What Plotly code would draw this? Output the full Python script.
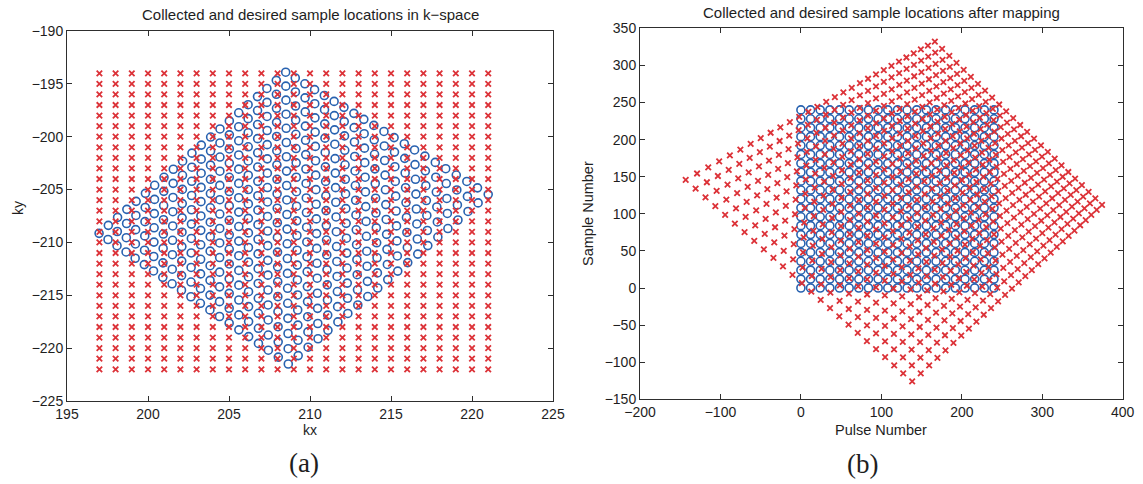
import numpy as np
import plotly.graph_objects as go

# Desired (rectangular) k-space grid
kx_vals = list(range(197, 222))          # 197 ... 221
ky_vals = list(range(-222, -193))        # -222 ... -194

# Collected samples: pulse / sample index grid
pulse_vals = list(range(0, 241, 12))     # 0 ... 240
sample_vals = list(range(0, 241, 12))    # 0 ... 240

# Corner correspondences of the two grids
# collected grid corners (pulse, sample) and where they sit in k-space
collected_corners_ps = [[0, 0], [0, 240], [240, 0], [240, 240]]
collected_corners_k = [[208.5, -193.9], [221.0, -205.45], [196.98, -209.14], [208.66, -221.5]]
# desired grid corners (kx, ky) and where they land after mapping
desired_corners_k = [[197, -194], [221, -222], [221, -194], [197, -222]]
desired_corners_ps = [[138.3, -125.7], [166.5, 331.9], [-143.2, 145.8], [374.3, 112.0]]


def projective(src, dst):
    """3x3 projective transform taking the four src points onto dst."""
    rows, rhs = [], []
    for (x, y), (u, v) in zip(src, dst):
        rows.append([x, y, 1, 0, 0, 0, -u * x, -u * y]); rhs.append(u)
        rows.append([0, 0, 0, x, y, 1, -v * x, -v * y]); rhs.append(v)
    h = np.linalg.solve(np.array(rows, float), np.array(rhs, float))
    return np.append(h, 1.0).reshape(3, 3)


def apply(H, pts):
    q = np.c_[pts, np.ones(len(pts))] @ H.T
    return q[:, :2] / q[:, 2:3]


ps_grid = np.array([[p, s] for p in pulse_vals for s in sample_vals], float)
k_grid = np.array([[x, y] for x in kx_vals for y in ky_vals], float)

collected_k = apply(projective(collected_corners_ps, collected_corners_k), ps_grid)
desired_ps = apply(projective(desired_corners_k, desired_corners_ps), k_grid)

RED = "#dc3238"
BLUE = "#2862b0"
circle = dict(symbol="circle-open", size=8, color=BLUE, line=dict(width=1.6, color=BLUE))
cross = dict(symbol="x-thin-open", size=5.5, color=RED, line=dict(width=1.8, color=RED))

fig = go.Figure()
# (a) k-space
fig.add_trace(go.Scatter(x=collected_k[:, 0], y=collected_k[:, 1], mode="markers",
                         marker=circle, xaxis="x", yaxis="y", name="collected"))
fig.add_trace(go.Scatter(x=k_grid[:, 0], y=k_grid[:, 1], mode="markers",
                         marker=cross, xaxis="x", yaxis="y", name="desired"))
# (b) after mapping
fig.add_trace(go.Scatter(x=ps_grid[:, 0], y=ps_grid[:, 1], mode="markers",
                         marker=circle, xaxis="x2", yaxis="y2", name="collected"))
fig.add_trace(go.Scatter(x=desired_ps[:, 0], y=desired_ps[:, 1], mode="markers",
                         marker=cross, xaxis="x2", yaxis="y2", name="desired"))

W, H = 1143, 484
FONT = "Liberation Sans"
ax = dict(showgrid=False, zeroline=False, showline=True, mirror="ticks", automargin=False,
          linecolor="#2e2e2e", linewidth=1, ticks="inside", ticklen=5, tickcolor="#2e2e2e",
          tickfont=dict(family=FONT, size=14, color="#1e1e1e"))

fig.update_layout(
    width=W, height=H, margin=dict(l=0, r=0, t=0, b=0, autoexpand=False), showlegend=False,
    paper_bgcolor="white", plot_bgcolor="white",
    xaxis=dict(ax, domain=[67 / W, 553 / W], range=[195, 225], dtick=5, anchor="y"),
    yaxis=dict(ax, domain=[1 - 401 / H, 1 - 31 / H], range=[-225, -190], dtick=5, anchor="x"),
    xaxis2=dict(ax, domain=[640 / W, 1122.7 / W], range=[-200, 400], dtick=100, anchor="y2"),
    yaxis2=dict(ax, domain=[1 - 399.3 / H, 1 - 28.3 / H], range=[-150, 350], dtick=50, anchor="x2"),
)


def label(text, x, y, size=15, angle=0, family=FONT):
    fig.add_annotation(x=x / W, y=1 - y / H, xref="paper", yref="paper", text=text,
                       showarrow=False, textangle=angle, xanchor="center", yanchor="middle",
                       font=dict(family=family, size=size, color="#1e1e1e"))


label("Collected and desired sample locations in k\u2212space", 310, 14)
label("Collected and desired sample locations after mapping", 881.5, 13)
label("kx", 310, 430, size=14)
label("ky", 18, 208, size=14, angle=-90)
label("Pulse Number", 881.5, 430, size=14.5)
label("Sample Number", 588, 214, size=14.5, angle=-90)
label("(a)", 304, 463, size=27, family="Liberation Serif")
label("(b)", 862.5, 464, size=27, family="Liberation Serif")

fig.write_html("out.html")
